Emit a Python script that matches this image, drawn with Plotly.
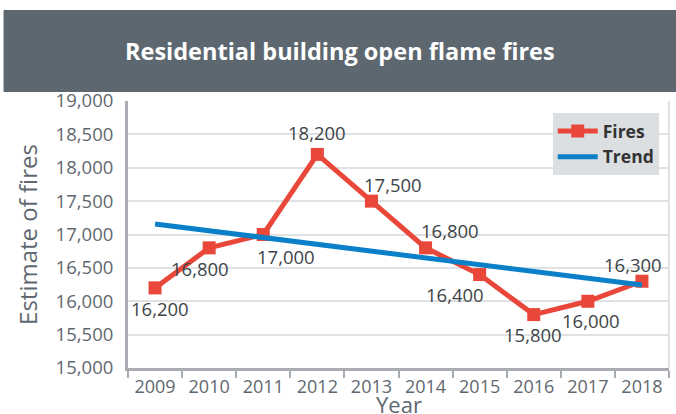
import plotly.graph_objects as go

# Chart data
years = ["2009", "2010", "2011", "2012", "2013", "2014", "2015", "2016", "2017", "2018"]
fires = [16200, 16800, 17000, 18200, 17500, 16800, 16400, 15800, 16000, 16300]
trend_years = ["2009", "2018"]
trend_values = [17158, 16242]
y_ticks = [15000, 15500, 16000, 16500, 17000, 17500, 18000, 18500, 19000]

# Pixel offsets of each value label from its marker (x right, y up)
label_dx = [5, -9, 23, 0, 22, 24, -25, -1, 3, -9]
label_dy = [-21, -21, -22, 22, 17, 17, -20, -20, -19, 17]

FONT = "Open Sans"
RED = "#e8473a"
BLUE = "#0a80c8"
AXIS_GRAY = "#a9adb1"
GRID_GRAY = "#dfe1e3"
TICK_TEXT = "#5f6870"

fig = go.Figure()

fig.add_trace(go.Scatter(
    x=years, y=fires, name="Fires",
    mode="lines+markers",
    line=dict(color=RED, width=5),
    marker=dict(symbol="square", size=13, color=RED),
))

fig.add_trace(go.Scatter(
    x=trend_years, y=trend_values, name="Trend",
    mode="lines",
    line=dict(color=BLUE, width=5),
))

# Value labels next to each marker (x given as category index)
for i, (v, dx, dy) in enumerate(zip(fires, label_dx, label_dy)):
    fig.add_annotation(x=i, y=v, text=f"{v:,}", showarrow=False,
                       xshift=dx, yshift=dy,
                       font=dict(family=FONT, size=18.5, color="#404549"))

# Header band with the chart title
fig.add_shape(type="rect", xref="paper", yref="paper",
              x0=-0.23, x1=1.02, y0=1.034, y1=1.341,
              fillcolor="#5c6770", line=dict(width=0), layer="below")
fig.add_annotation(text="<b>Residential building open flame fires</b>",
                   xref="paper", yref="paper", x=0.392, y=1.187,
                   xanchor="center", yanchor="middle", showarrow=False,
                   font=dict(family=FONT, size=23.5, color="white"))

# X axis title
fig.add_annotation(text="Year", xref="paper", yref="paper",
                   x=0.5, y=-0.135, xanchor="center", yanchor="middle",
                   showarrow=False, borderpad=0,
                   font=dict(family=FONT, size=22, color=TICK_TEXT))

# Right border of the plot area
fig.add_shape(type="line", xref="paper", yref="paper",
              x0=1, x1=1, y0=0, y1=1,
              line=dict(color=GRID_GRAY, width=2), layer="below")

fig.update_layout(
    width=676, height=414,
    margin=dict(l=128, r=7, t=101, b=46),
    paper_bgcolor="white", plot_bgcolor="white",
    font=dict(family=FONT, color=TICK_TEXT),
    showlegend=True,
    legend=dict(
        x=0.981, y=0.955, xanchor="right", yanchor="top",
        bgcolor="#dcdfe2",
        font=dict(family=FONT, size=17.5, color="#333333", weight="bold"),
        tracegroupgap=0, itemwidth=40,
    ),
)

fig.update_xaxes(
    type="category", categoryorder="array", categoryarray=years,
    range=[-0.5, 9.5], automargin=False,
    showline=True, linecolor=AXIS_GRAY, linewidth=3,
    ticks="outside", tickson="boundaries", ticklen=7, tickwidth=2,
    tickcolor=AXIS_GRAY,
    showgrid=False,
    tickfont=dict(family=FONT, size=18, color=TICK_TEXT),
)

fig.update_yaxes(
    range=[15000, 19000], tickvals=y_ticks, automargin=False,
    ticktext=[f"{v:,}" for v in y_ticks],
    showline=True, linecolor=AXIS_GRAY, linewidth=3,
    showgrid=True, gridcolor=GRID_GRAY, gridwidth=2,
    zeroline=False, ticks="", ticklabelstandoff=8,
    tickfont=dict(family=FONT, size=18.5, color=TICK_TEXT),
    title=dict(text="Estimate of fires",
               font=dict(family=FONT, size=24, color=TICK_TEXT), standoff=12),
)

fig.write_html("out.html")
